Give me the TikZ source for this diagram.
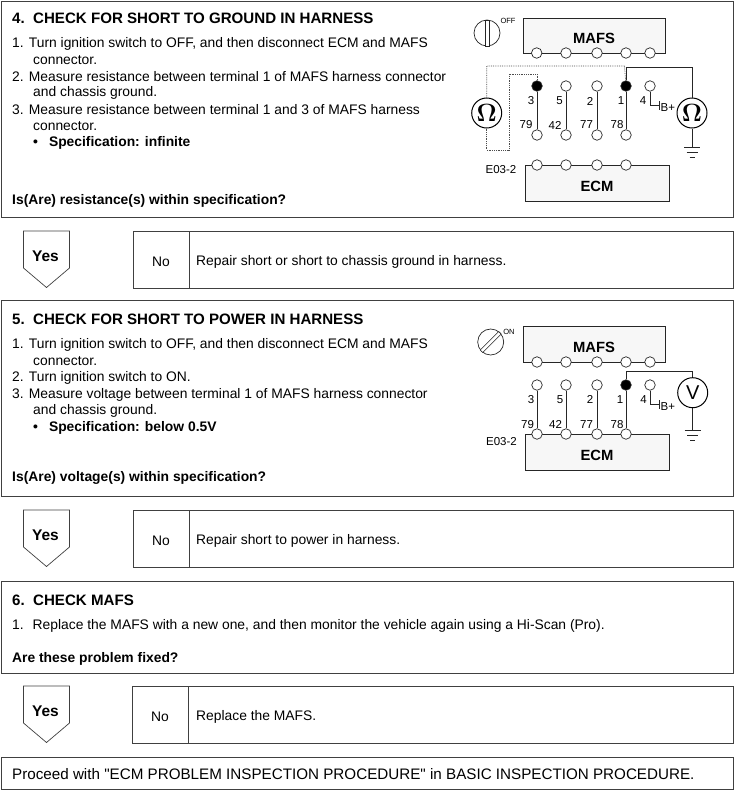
\documentclass[tikz,border=0pt]{standalone}
\usepackage{fontspec}
\setmainfont{Liberation Sans}
\newfontfamily\plainfont{Liberation Sans}
\usetikzlibrary{arrows.meta,positioning}

\begin{document}
\begin{tikzpicture}[
  x=1pt, y=-1pt,
  frame/.style={draw=black!75, line width=0.9pt},
  body/.style={anchor=west, inner sep=0pt, font=\fontsize{13.85}{15}\selectfont},
  bodyb/.style={body, font=\fontsize{13.85}{15}\selectfont\bfseries},
  title/.style={anchor=west, inner sep=0pt, font=\fontsize{15.1}{17}\selectfont\bfseries},
  unit/.style={rectangle, draw=black!85, fill=black!3, line width=0.7pt, inner sep=0pt, font=\fontsize{14.8}{17}\selectfont\bfseries},
  pin/.style={circle, draw=black!85, fill=white, line width=0.7pt, minimum size=10.5pt, inner sep=0pt},
  hot/.style={pin, fill=black},
  meter/.style={circle, draw=black, fill=white, line width=1pt, minimum size=30pt, inner sep=0pt, font=\fontsize{20}{22}\selectfont},
  wire/.style={draw=black!85, line width=0.7pt},
  probe/.style={draw=black!70, line width=0.8pt, densely dotted},
  tag/.style={inner sep=0pt, font=\fontsize{11.5}{13}\selectfont},
  small/.style={inner sep=0pt, font=\fontsize{7.5}{9}\selectfont},
  ground/.pic={
    \draw[wire] (-8,0) -- (8,0);
    \draw[wire] (-5.5,5) -- (5.5,5);
    \draw[wire] (-2.5,10) -- (2.5,10);
  }
]
\useasboundingbox (0,0) rectangle (734,790);

% frames
\node[frame, minimum width=732.5pt, minimum height=216.5pt, anchor=north west, inner sep=0pt] (stepA) at (0.5,0.5) {};
\node[frame, minimum width=732.5pt, minimum height=196pt, anchor=north west, inner sep=0pt] (stepB) at (0.5,300) {};
\node[frame, minimum width=732.5pt, minimum height=92pt, anchor=north west, inner sep=0pt] (stepC) at (0.5,581) {};
\node[frame, minimum width=732.5pt, minimum height=32pt, anchor=north west, inner sep=0pt] (proceed) at (0.5,757) {};

% Yes / No rows
\foreach \y/\n/\nx/\lx/\txt in {231/A/161/133/{Repair short or short to chassis ground in harness.},
    510/B/161/133/{Repair short to power in harness.},
    686/C/160/132/{Replace the MAFS.}} {
  \draw[frame, line width=0.7pt] (23.5,\y) -- ++(46,0) -- ++(0,37) -- ++(-23,19.5) -- ++(-23,-19.5) -- cycle;
  \node[inner sep=0pt, font=\fontsize{15.5}{17}\selectfont\bfseries] (yes\n) at (45.5,\y+25) {Yes};
  \node[frame, line width=0.7pt, anchor=north west, minimum width=733pt-\lx pt, minimum height=57pt, inner sep=0pt] (nobox\n) at (\lx,\y) {};
  \draw[frame, line width=0.7pt] (\lx+56,\y) -- (\lx+56,\y+57);
  \node[inner sep=0pt, font=\fontsize{13.85}{15}\selectfont] (no\n) at (\nx,\y+30.5) {No};
  \node[body] (fix\n) at (196,\y+30.5) {\txt};
}

% step 4 text
\node[title] (headA) at (12,18) {4.\ \ CHECK FOR SHORT TO GROUND IN HARNESS};
\node[body] at (12,44) {1. Turn ignition switch to OFF, and then disconnect ECM and MAFS};
\node[body] at (33,60) {connector.};
\node[body] at (12,77) {2. Measure resistance between terminal 1 of MAFS harness connector};
\node[body] at (33,93) {and chassis ground.};
\node[body] at (12,110) {3. Measure resistance between terminal 1 and 3 of MAFS harness};
\node[body] at (33,126) {connector.};
\node[bodyb] at (33,143) {•\hspace{11pt}Specification: infinite};
\node[bodyb] at (12,201) {Is(Are) resistance(s) within specification?};

% step 5 text
\node[title] (headB) at (12,319) {5.\ \ CHECK FOR SHORT TO POWER IN HARNESS};
\node[body] at (12,345) {1. Turn ignition switch to OFF, and then disconnect ECM and MAFS};
\node[body] at (33,361) {connector.};
\node[body] at (12,378) {2. Turn ignition switch to ON.};
\node[body] at (12,395) {3. Measure voltage between terminal 1 of MAFS harness connector};
\node[body] at (33,411) {and chassis ground.};
\node[bodyb] at (33,428) {•\hspace{11pt}Specification: below 0.5V};
\node[bodyb] at (12,478) {Is(Are) voltage(s) within specification?};

% step 6 text
\node[title] (headC) at (12,600) {6.\ \ CHECK MAFS};
\node[body] at (12,626) {1.\hspace{9pt}Replace the MAFS with a new one, and then monitor the vehicle again using a Hi-Scan (Pro).};
\node[bodyb] at (12,659) {Are these problem fixed?};
\node[anchor=west, inner sep=0pt, font=\fontsize{15.2}{17}\selectfont\plainfont] (proceedtxt) at (12,774) {Proceed with "ECM PROBLEM INSPECTION PROCEDURE" in BASIC INSPECTION PROCEDURE.};

% diagram of step 4
\node[circle, draw=black!85, line width=0.7pt, minimum size=26pt, inner sep=0pt] (keyA) at (487,33) {};
\node[draw=black!85, fill=white, line width=0.6pt, minimum width=3.5pt, minimum height=26pt, inner sep=0pt] (slotA) at (487.5,33) {};
\node[small] (offA) at (508,21) {OFF};
\node[unit, minimum width=142pt, minimum height=35pt] (mafsA) at (594,35.5) {\raisebox{-3pt}[10pt][0pt]{MAFS}};
\node[unit, minimum width=144pt, minimum height=36pt] (ecmA) at (597,183) {\raisebox{-3pt}[10pt][0pt]{ECM}};
\node[tag] (connA) at (501,170) {E03-2};
\foreach \x [count=\i] in {536.7,566,597,626,650}
  \node[pin] (mafsA\i) at (\x,53) {};
\foreach \x [count=\i] in {537,566,597,626}
  \node[pin] (ecmA\i) at (\x,165) {};
\foreach \x [count=\i] in {537,566,597,626} {
  \node[pin] (botA\i) at (\x,135) {};
  \ifnum\i=1 \node[hot] (topA\i) at (\x,86) {};
  \else\ifnum\i=4 \node[hot] (topA\i) at (\x,86) {};
  \else \node[pin] (topA\i) at (\x,86) {};
  \fi\fi
  \draw[wire] (topA\i) -- (botA\i);
}
\node[pin] (topA5) at (650,86) {};
\foreach \x/\n in {531/3,559.5/5,590/2,621/1,643/4}
  \node[tag] at (\x,101) {\n};
\foreach \x/\n in {526/79,555/42,586.5/77,617/78}
  \node[tag] at (\x,125) {\n};
\coordinate (bendA) at (659,105);
\draw[wire] (topA5) |- (bendA);
\draw[wire] (659,101) -- (659,110);
\node[tag, anchor=west] (bplusA) at (660.5,108) {B+};
\node[meter, font=\fontsize{24}{26}\selectfont\boldmath] (ohmL) at (486.7,113) {$\Omega$};
\node[meter, font=\fontsize{24}{26}\selectfont\boldmath] (ohmR) at (692,113) {$\Omega$};
\coordinate (wireA) at (692,67);
\coordinate (dotA) at (624.5,66);
\coordinate (dotB) at (509,150);
\coordinate (dotC) at (509,74);
\coordinate (gndA) at (692,147);
\draw[wire] (topA4) |- (wireA) -- (ohmR);
\draw[wire] (ohmR) -- (gndA);
\pic at (gndA) {ground};
\draw[probe] (ohmL) |- (dotA) -- (topA4);
\draw[probe] (ohmL) |- (dotB) -- (dotC) -| (topA1);

% diagram of step 5
\node[circle, draw=black!85, line width=0.7pt, minimum size=26pt, inner sep=0pt] (keyB) at (490.7,342) {};
\node[draw=black!85, fill=white, line width=0.6pt, minimum width=3.5pt, minimum height=26pt, inner sep=0pt, rotate=-45] (slotB) at (490.7,342) {};
\node[small] (onB) at (509,332) {ON};
\node[unit, minimum width=142pt, minimum height=35.5pt] (mafsB) at (594,344.5) {\raisebox{-3pt}[10pt][0pt]{MAFS}};
\node[unit, minimum width=144pt, minimum height=36.5pt] (ecmB) at (597,452.5) {\raisebox{-3pt}[10pt][0pt]{ECM}};
\node[tag] (connB) at (501.5,441.5) {E03-2};
\foreach \x [count=\i] in {537,566,597,626,650}
  \node[pin] (mafsB\i) at (\x,362) {};
\foreach \x [count=\i] in {537,566,597,626} {
  \node[pin] (ecmB\i) at (\x,434) {};
  \ifnum\i=4 \node[hot] (topB\i) at (\x,385) {};
  \else \node[pin] (topB\i) at (\x,385) {};
  \fi
  \draw[wire] (topB\i) -- (ecmB\i);
}
\node[pin] (topB5) at (650,385) {};
\foreach \x/\n in {531/3,560/5,590/2,620/1,643.5/4}
  \node[tag] at (\x,399.5) {\n};
\foreach \x/\n in {527.5/79,555.5/42,586.5/77,617/78}
  \node[tag] at (\x,424.5) {\n};
\coordinate (bendB) at (659,404);
\draw[wire] (topB5) |- (bendB);
\draw[wire] (659,400) -- (659,409);
\node[tag, anchor=west] (bplusB) at (660.5,407) {B+};
\node[meter] (volt) at (692.7,392.7) {V};
\coordinate (wireB) at (692.7,371.5);
\coordinate (gndB) at (692.7,430);
\draw[wire] (topB4) |- (wireB) -- (volt);
\draw[wire] (volt) -- (gndB);
\pic at (gndB) {ground};
\end{tikzpicture}
\end{document}
